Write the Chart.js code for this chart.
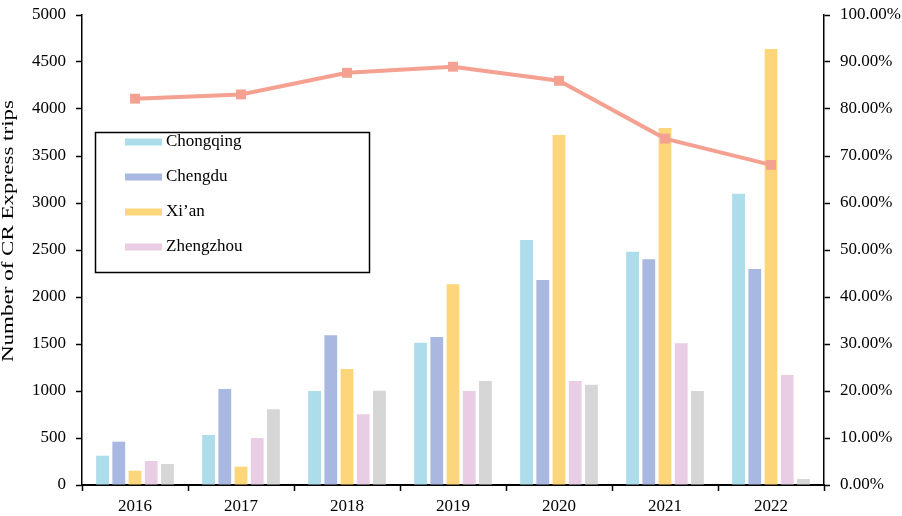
<!DOCTYPE html>
<html>
<head>
<meta charset="utf-8">
<script src="https://cdn.jsdelivr.net/npm/chart.js@4/dist/chart.umd.min.js"></script>
<style>
  html, body { margin: 0; padding: 0; background: #fff; }
  #wrap { width: 902px; height: 516px; }
</style>
</head>
<body>
<div id="wrap"><canvas id="c" width="902" height="516"></canvas></div>
<script>
// Years on the category axis
const years = ['2016', '2017', '2018', '2019', '2020', '2021', '2022'];

// CR Express trips by city
const chongqing = [312, 532, 1000, 1514, 2606, 2482, 3099];
const chengdu   = [461, 1021, 1592, 1574, 2181, 2401, 2298];
const xian      = [152, 195, 1234, 2135, 3723, 3798, 4638];
const zhengzhou = [255, 500, 752, 1000, 1106, 1507, 1170];
const others    = [223, 805, 1003, 1106, 1067, 1000, 64];

// Share series on the right axis (%)
const share = [82.2, 83.1, 87.7, 89.0, 86.0, 73.7, 68.1];

// Legend entries (the grey series is not listed)
const legendNames = ['Chongqing', 'Chengdu', 'Xi\u2019an', 'Zhengzhou'];
const yTitle = 'Number of CR Express trips';

const colors = {
  chongqing: '#ADDCEB',
  chengdu: '#A9B8E0',
  xian: '#FDD57A',
  zhengzhou: '#E9CDE4',
  others: '#D6D6D6',
  line: '#F4A192'
};

const serif = '"Liberation Serif", "Times New Roman", serif';

function bar(label, data, color) {
  return {
    type: 'bar', label, data, backgroundColor: color,
    borderWidth: 0, yAxisID: 'y', order: 2,
    categoryPercentage: 0.765, barPercentage: 0.79
  };
}

// Boxed legend drawn inside the plot area
const boxLegend = {
  id: 'boxLegend',
  afterDraw(chart) {
    const ctx = chart.ctx;
    const bx = 95.5, by = 132.5, bw = 274, bh = 140;
    ctx.save();
    ctx.strokeStyle = '#000';
    ctx.lineWidth = 1.5;
    ctx.strokeRect(bx, by, bw, bh);
    ctx.font = '17px ' + serif;
    ctx.textBaseline = 'middle';
    const swatch = [colors.chongqing, colors.chengdu, colors.xian, colors.zhengzhou];
    legendNames.forEach((name, i) => {
      const cy = 142 + i * 35;
      ctx.fillStyle = swatch[i];
      ctx.fillRect(125, cy - 3.5, 37, 7);
      ctx.fillStyle = '#000';
      ctx.fillText(name, 166, cy);
    });
    ctx.restore();
  }
};

// Left axis title, set in a wide serif along the axis
const axisTitle = {
  id: 'axisTitle',
  afterDraw(chart) {
    const ctx = chart.ctx;
    ctx.save();
    ctx.font = '17px ' + serif;
    ctx.fillStyle = '#000';
    ctx.textAlign = 'center';
    ctx.textBaseline = 'middle';
    const w = ctx.measureText(yTitle).width;
    ctx.translate(9, 231);
    ctx.rotate(-Math.PI / 2);
    ctx.scale(262 / w, 1);
    ctx.fillText(yTitle, 0, 0);
    ctx.restore();
  }
};

// Fixed box sizes so the plot area sits at the same place every time
function fitVertical(width) {
  return function (s) {
    s.width = width;
    s.paddingTop = 0;
    s.paddingBottom = 0;
  };
}

new Chart(document.getElementById('c'), {
  data: {
    labels: years,
    datasets: [
      bar(legendNames[0], chongqing, colors.chongqing),
      bar(legendNames[1], chengdu, colors.chengdu),
      bar(legendNames[2], xian, colors.xian),
      bar(legendNames[3], zhengzhou, colors.zhengzhou),
      bar('Other', others, colors.others),
      {
        type: 'line', label: 'Share', data: share,
        yAxisID: 'y1', order: 0,
        borderColor: colors.line, backgroundColor: colors.line,
        borderWidth: 4, pointStyle: 'rect', pointRadius: 7,
        pointBorderWidth: 0, tension: 0
      }
    ]
  },
  options: {
    responsive: false,
    animation: false,
    layout: { padding: { top: 15, left: 0, right: 0, bottom: 0 } },
    plugins: { legend: { display: false }, tooltip: { enabled: false } },
    scales: {
      x: {
        grid: { display: true, drawOnChartArea: false, offset: true, tickLength: 6, color: '#000', tickWidth: 1.5 },
        border: { display: true, color: '#000', width: 2 },
        ticks: { color: '#000', font: { family: serif, size: 17 }, padding: 5, maxRotation: 0 },
        afterFit(s) { s.height = 31; s.paddingLeft = 0; s.paddingRight = 0; }
      },
      y: {
        position: 'left', min: 0, max: 5000,
        grid: { display: true, drawOnChartArea: false, tickLength: 6, color: '#000', tickWidth: 1.5 },
        border: { display: true, color: '#000', width: 1.5 },
        ticks: {
          stepSize: 500, color: '#000', font: { family: serif, size: 17 }, padding: 10,
          callback: v => String(v)
        },
        afterFit: fitVertical(82)
      },
      y1: {
        position: 'right', min: 0, max: 100,
        grid: { display: true, drawOnChartArea: false, tickLength: 6, color: '#000', tickWidth: 1.5 },
        border: { display: true, color: '#000', width: 1.5 },
        ticks: {
          stepSize: 10, color: '#000', font: { family: serif, size: 17 }, padding: 10,
          callback: v => v.toFixed(2) + '%'
        },
        afterFit: fitVertical(78)
      }
    }
  },
  plugins: [boxLegend, axisTitle]
});
</script>
</body>
</html>
